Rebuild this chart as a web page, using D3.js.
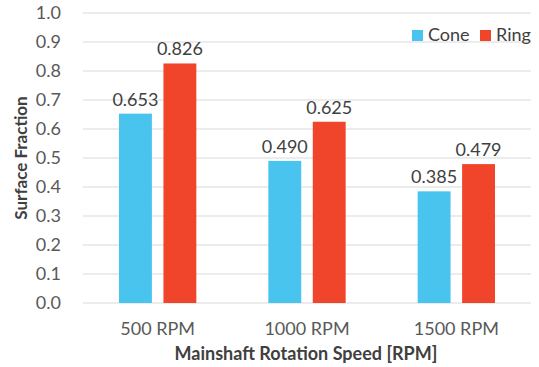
<!DOCTYPE html>
<html>
<head>
<meta charset="utf-8">
<script src="https://cdn.jsdelivr.net/npm/d3@7"></script>
<style>
  body { margin: 0; background: #fff; }
  text { font-family: Lato, "Open Sans", sans-serif; }
</style>
</head>
<body>
<div id="chart"></div>
<script>
// chart data
const speeds = ["500 RPM", "1000 RPM", "1500 RPM"];
const seriesNames = ["Cone", "Ring"];
const coneValues = [0.653, 0.490, 0.385];
const ringValues = [0.826, 0.625, 0.479];
const yTicks = [0, 0.1, 0.2, 0.3, 0.4, 0.5, 0.6, 0.7, 0.8, 0.9, 1.0];

const colors = { Cone: "#48C4EF", Ring: "#F0452B" };

const width = 539, height = 367;
const margin = { top: 13, right: 8, bottom: 64, left: 83 };

const svg = d3.select("#chart")
  .append("svg")
  .attr("width", width)
  .attr("height", height);

// scales
const xScale = d3.scaleBand()
  .domain(speeds)
  .range([margin.left, width - margin.right])
  .paddingInner(0)
  .paddingOuter(0);

const xInner = d3.scaleBand()
  .domain(seriesNames)
  .range([36, xScale.bandwidth() - 36])
  .paddingInner(0.26);

const yScale = d3.scaleLinear()
  .domain([0, 1])
  .range([height - margin.bottom, margin.top]);

// gridlines
svg.append("g")
  .selectAll("line")
  .data(yTicks)
  .enter()
  .append("line")
    .attr("x1", margin.left)
    .attr("x2", width - margin.right)
    .attr("y1", d => yScale(d))
    .attr("y2", d => yScale(d))
    .attr("stroke", "#d9d9d9")
    .attr("stroke-width", 1);

// y axis labels
const yAxis = svg.append("g")
  .attr("transform", `translate(${margin.left},0)`)
  .call(d3.axisLeft(yScale).tickValues(yTicks).tickFormat(d3.format(".1f")).tickSize(0).tickPadding(22));
yAxis.select(".domain").remove();
yAxis.selectAll("text").attr("font-size", "18px").attr("fill", "#595959")
  .style("font-family", "Lato, 'Open Sans', sans-serif");

// x axis labels
const xAxis = svg.append("g")
  .attr("transform", `translate(0,${height - margin.bottom})`)
  .call(d3.axisBottom(xScale).tickSize(0).tickPadding(19));
xAxis.select(".domain").remove();
xAxis.selectAll("text").attr("font-size", "18px").attr("fill", "#595959")
  .style("font-family", "Lato, 'Open Sans', sans-serif");

// bars
const rows = speeds.map((s, i) => ({ speed: s, Cone: coneValues[i], Ring: ringValues[i] }));

const groups = svg.selectAll(".grp")
  .data(rows)
  .enter()
  .append("g")
    .attr("class", "grp")
    .attr("transform", d => `translate(${xScale(d.speed)},0)`);

groups.selectAll("rect")
  .data(d => seriesNames.map(k => ({ key: k, value: d[k] })))
  .enter()
  .append("rect")
    .attr("x", d => xInner(d.key))
    .attr("y", d => yScale(d.value))
    .attr("width", xInner.bandwidth())
    .attr("height", d => yScale(0) - yScale(d.value))
    .attr("fill", d => colors[d.key]);

groups.selectAll(".val")
  .data(d => seriesNames.map(k => ({ key: k, value: d[k] })))
  .enter()
  .append("text")
    .attr("class", "val")
    .attr("x", d => xInner(d.key) + xInner.bandwidth() / 2)
    .attr("y", d => yScale(d.value) - 8)
    .attr("text-anchor", "middle")
    .attr("font-size", "18px")
    .attr("fill", "#404040")
    .text(d => d3.format(".3f")(d.value));

// axis titles
svg.append("text")
  .attr("transform", `translate(27,${(yScale(0) + yScale(1)) / 2}) rotate(-90)`)
  .attr("text-anchor", "middle")
  .attr("font-size", "17px")
  .attr("font-weight", "bold")
  .attr("fill", "#404040")
  .text("Surface Fraction");

svg.append("text")
  .attr("x", 306)
  .attr("y", 360)
  .attr("text-anchor", "middle")
  .attr("font-size", "18px")
  .attr("font-weight", "bold")
  .attr("fill", "#404040")
  .text("Mainshaft Rotation Speed [RPM]");

// legend
const legend = svg.append("g").attr("transform", "translate(412,30)");
const legendX = [0, 68];
seriesNames.forEach((name, i) => {
  legend.append("rect")
    .attr("x", legendX[i])
    .attr("y", 0)
    .attr("width", 11)
    .attr("height", 11)
    .attr("fill", colors[name]);
  legend.append("text")
    .attr("x", legendX[i] + 16)
    .attr("y", 11)
    .attr("font-size", "18px")
    .attr("fill", "#404040")
    .text(name);
});
</script>
</body>
</html>
